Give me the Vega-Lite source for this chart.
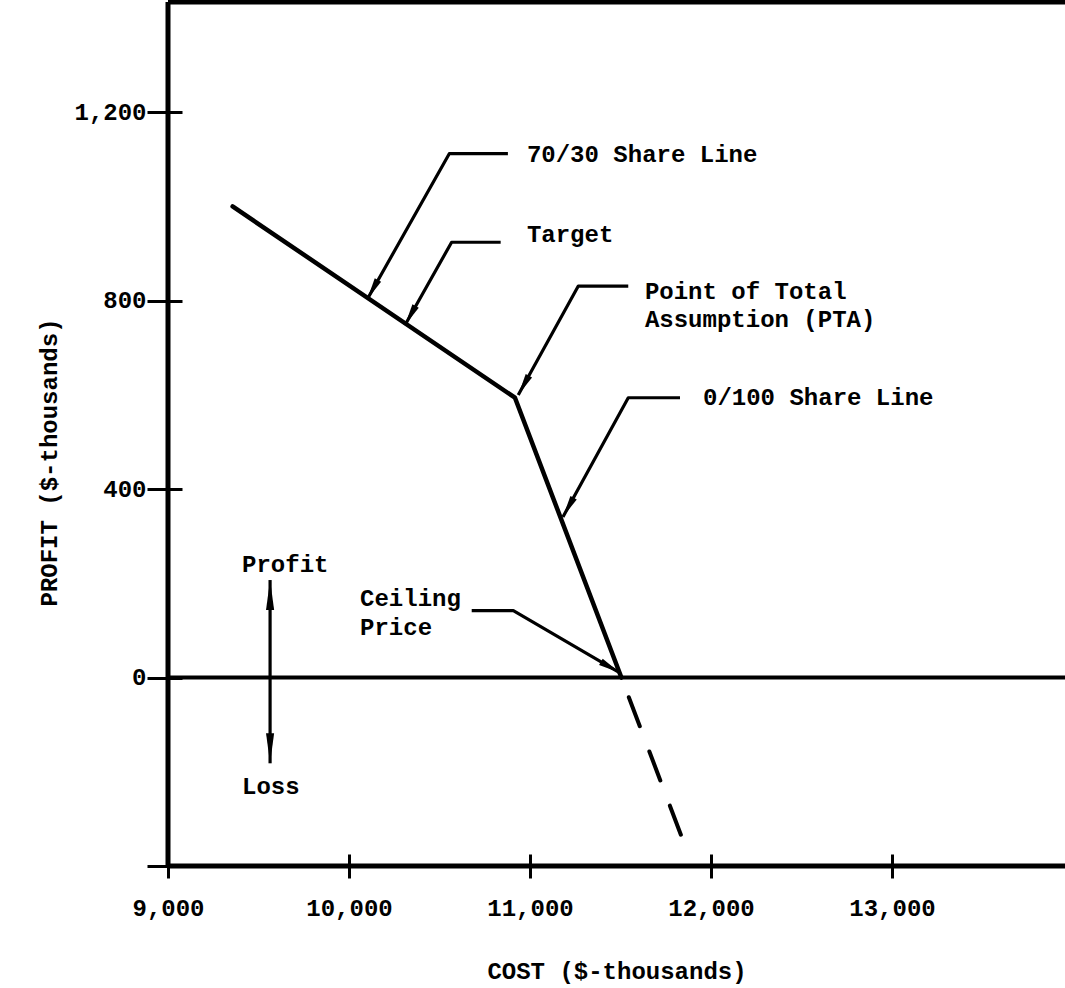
{
  "$schema": "https://vega.github.io/schema/vega-lite/v6.json",
  "width": 897,
  "height": 864,
  "autosize": {"type": "none"},
  "padding": {"left": 168, "top": 2, "right": 0, "bottom": 122},
  "background": "white",
  "data": {"values": [{}]},
  "config": {
    "view": {"stroke": null},
    "font": "Liberation Mono",
    "text": {"font": "Liberation Mono", "fontWeight": "bold", "fontSize": 24, "color": "#000"},
    "axis": {
      "grid": false,
      "domain": false,
      "tickWidth": 3,
      "tickColor": "#000",
      "labelColor": "#000",
      "labelFont": "Liberation Mono",
      "labelFontWeight": "bold",
      "labelFontSize": 24,
      "labelFlush": false,
      "labelOverlap": false,
      "titleColor": "#000",
      "titleFont": "Liberation Mono",
      "titleFontWeight": "bold",
      "titleFontSize": 24
    },
    "axisX": {"offset": -12, "tickSize": 24, "labelPadding": 18, "titlePadding": 39},
    "axisY": {"offset": -14, "tickSize": 35, "labelPadding": 1, "titlePadding": 12, "titleY": 460}
  },
  "datasets": {
    "curve": [
      {"step": 1, "cost": 9357, "profit": 1000},
      {"step": 2, "cost": 10917, "profit": 594},
      {"step": 3, "cost": 11505, "profit": 0}
    ],
    "extension": [
      {"step": 1, "cost": 11505, "profit": 0},
      {"step": 2, "cost": 11838, "profit": -338}
    ],
    "labels": [
      {"label": "70/30 Share Line", "cost": 10983, "profit": 1109},
      {"label": "Target", "cost": 10983, "profit": 939},
      {"label": "Point of Total", "cost": 11635, "profit": 818},
      {"label": "Assumption (PTA)", "cost": 11635, "profit": 759},
      {"label": "0/100 Share Line", "cost": 11956, "profit": 594},
      {"label": "Ceiling", "cost": 10061, "profit": 167},
      {"label": "Price", "cost": 10061, "profit": 105},
      {"label": "Profit", "cost": 9409, "profit": 239},
      {"label": "Loss", "cost": 9409, "profit": -232}
    ],
    "leaders": [
      {"arrow": "70/30", "step": 1, "cost": 10878, "profit": 1112},
      {"arrow": "70/30", "step": 2, "cost": 10554, "profit": 1112},
      {"arrow": "70/30", "step": 3, "cost": 10101, "profit": 803},
      {"arrow": "Target", "step": 1, "cost": 10838, "profit": 924},
      {"arrow": "Target", "step": 2, "cost": 10567, "profit": 924},
      {"arrow": "Target", "step": 3, "cost": 10309, "profit": 748},
      {"arrow": "PTA", "step": 1, "cost": 11543, "profit": 831},
      {"arrow": "PTA", "step": 2, "cost": 11267, "profit": 831},
      {"arrow": "PTA", "step": 3, "cost": 10935, "profit": 600},
      {"arrow": "0/100", "step": 1, "cost": 11829, "profit": 594},
      {"arrow": "0/100", "step": 2, "cost": 11543, "profit": 594},
      {"arrow": "0/100", "step": 3, "cost": 11182, "profit": 341},
      {"arrow": "Ceiling", "step": 1, "cost": 10678, "profit": 142},
      {"arrow": "Ceiling", "step": 2, "cost": 10908, "profit": 142},
      {"arrow": "Ceiling", "step": 3, "cost": 11497, "profit": 10},
      {"arrow": "ProfitLoss", "step": 1, "cost": 9564, "profit": 207},
      {"arrow": "ProfitLoss", "step": 2, "cost": 9564, "profit": -182}
    ],
    "heads": [
      {"arrow": "70/30", "cost": 10101, "profit": 803},
      {"arrow": "Target", "cost": 10309, "profit": 748},
      {"arrow": "PTA", "cost": 10935, "profit": 600},
      {"arrow": "0/100", "cost": 11182, "profit": 341},
      {"arrow": "Ceiling", "cost": 11497, "profit": 10},
      {"arrow": "Profit", "cost": 9564, "profit": 207},
      {"arrow": "Loss", "cost": 9564, "profit": -182}
    ]
  },
  "layer": [
    {
      "data": {"name": "curve"},
      "mark": {"type": "line", "color": "#000", "strokeWidth": 4.5, "strokeCap": "round", "strokeJoin": "round"},
      "encoding": {
        "x": {
          "field": "cost", "type": "quantitative",
          "scale": {"domain": [9000, 13956], "nice": false, "zero": false},
          "axis": {
            "title": "COST ($-thousands)",
            "values": [9000, 10000, 11000, 12000, 13000],
            "labelExpr": "format(datum.value, ',')"
          }
        },
        "y": {
          "field": "profit", "type": "quantitative",
          "scale": {"domain": [-400, 1434], "nice": false, "zero": false},
          "axis": {
            "title": "PROFIT ($-thousands)",
            "values": [-400, 0, 400, 800, 1200],
            "labelExpr": "datum.value < 0 ? '' : format(datum.value, ',')"
          }
        },
        "order": {"field": "step", "type": "quantitative"}
      }
    },
    {
      "mark": {"type": "rule", "color": "#000", "strokeWidth": 5},
      "encoding": {"x": {"datum": 9000, "type": "quantitative"}}
    },
    {
      "mark": {"type": "rule", "color": "#000", "strokeWidth": 5},
      "encoding": {"y": {"datum": -400, "type": "quantitative"}}
    },
    {
      "mark": {"type": "rule", "color": "#000", "strokeWidth": 5},
      "encoding": {"y": {"datum": 1434, "type": "quantitative"}}
    },
    {
      "mark": {"type": "rule", "color": "#000", "strokeWidth": 4},
      "encoding": {"y": {"datum": 0, "type": "quantitative"}}
    },
    {
      "data": {"name": "extension"},
      "mark": {"type": "line", "color": "#000", "strokeWidth": 4, "strokeCap": "round", "strokeDash": [31, 27], "strokeDashOffset": 37},
      "encoding": {
        "x": {"field": "cost", "type": "quantitative"},
        "y": {"field": "profit", "type": "quantitative"},
        "order": {"field": "step", "type": "quantitative"}
      }
    },
    {
      "data": {"name": "leaders"},
      "mark": {"type": "line", "color": "#000", "strokeWidth": 3.2, "strokeJoin": "round"},
      "encoding": {
        "x": {"field": "cost", "type": "quantitative"},
        "y": {"field": "profit", "type": "quantitative"},
        "detail": {"field": "arrow", "type": "nominal"},
        "order": {"field": "step", "type": "quantitative"}
      }
    },
    {
      "data": {"name": "heads"},
      "transform": [{"filter": "datum.arrow == '70/30' || datum.arrow == 'Target' || datum.arrow == 'PTA' || datum.arrow == '0/100'"}],
      "mark": {"type": "point", "shape": "M0,0L0.33,2L-0.33,2Z", "filled": true, "color": "#000", "opacity": 1, "size": 484, "angle": 209},
      "encoding": {
        "x": {"field": "cost", "type": "quantitative"},
        "y": {"field": "profit", "type": "quantitative"}
      }
    },
    {
      "data": {"name": "heads"},
      "transform": [{"filter": "datum.arrow == 'Ceiling'"}],
      "mark": {"type": "point", "shape": "M0,0L0.33,2L-0.33,2Z", "filled": true, "color": "#000", "opacity": 1, "size": 484, "angle": 120},
      "encoding": {
        "x": {"field": "cost", "type": "quantitative"},
        "y": {"field": "profit", "type": "quantitative"}
      }
    },
    {
      "data": {"name": "heads"},
      "transform": [{"filter": "datum.arrow == 'Profit'"}],
      "mark": {"type": "point", "shape": "M0,0L0.27,2L-0.27,2Z", "filled": true, "color": "#000", "opacity": 1, "size": 900, "angle": 0},
      "encoding": {
        "x": {"field": "cost", "type": "quantitative"},
        "y": {"field": "profit", "type": "quantitative"}
      }
    },
    {
      "data": {"name": "heads"},
      "transform": [{"filter": "datum.arrow == 'Loss'"}],
      "mark": {"type": "point", "shape": "M0,0L0.27,2L-0.27,2Z", "filled": true, "color": "#000", "opacity": 1, "size": 900, "angle": 180},
      "encoding": {
        "x": {"field": "cost", "type": "quantitative"},
        "y": {"field": "profit", "type": "quantitative"}
      }
    },
    {
      "data": {"name": "labels"},
      "mark": {"type": "text", "align": "left", "baseline": "middle", "font": "Liberation Mono", "fontWeight": "bold", "fontSize": 24, "color": "#000"},
      "encoding": {
        "x": {"field": "cost", "type": "quantitative"},
        "y": {"field": "profit", "type": "quantitative"},
        "text": {"field": "label", "type": "nominal"}
      }
    }
  ]
}
